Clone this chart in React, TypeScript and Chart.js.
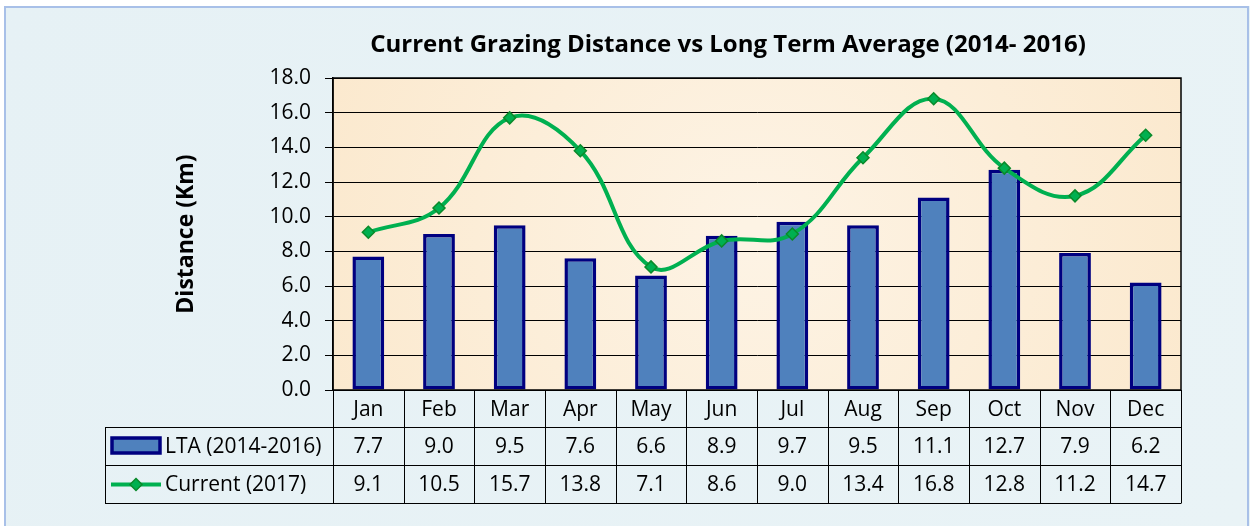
import React, { useEffect, useRef } from "react";
import { Chart, registerables } from "chart.js";

Chart.register(...registerables);

const categories = ["Jan", "Feb", "Mar", "Apr", "May", "Jun", "Jul", "Aug", "Sep", "Oct", "Nov", "Dec"];
const ltaValues = [7.7, 9.0, 9.5, 7.6, 6.6, 8.9, 9.7, 9.5, 11.1, 12.7, 7.9, 6.2];
const currentValues = [9.1, 10.5, 15.7, 13.8, 7.1, 8.6, 9.0, 13.4, 16.8, 12.8, 11.2, 14.7];
const ltaLabel = "LTA (2014-2016)";
const currentLabel = "Current (2017)";
const chartTitle = "Current Grazing Distance vs Long Term Average (2014- 2016)";
const yTitle = "Distance (Km)";

const FONT = "'Open Sans', 'Noto Sans', sans-serif";
const BAR_FILL = "#4f81bd";
const BAR_BORDER = "#000080";
const LINE_COLOR = "#00b050";
const POINT_BORDER = "#0a8a2a";

const decorPlugin = {
  id: "decor",
  beforeDraw(chart: any) {
    const { ctx, width, height, chartArea } = chart;
    ctx.save();
    const bg = ctx.createLinearGradient(0, 0, width, height);
    bg.addColorStop(0, "#e6f1f5");
    bg.addColorStop(1, "#e9f3f6");
    ctx.fillStyle = bg;
    ctx.fillRect(0, 0, width, height);
    ctx.fillStyle = "#ffffff";
    ctx.fillRect(0, 0, width, 6);
    ctx.fillRect(0, 0, 4, height);
    ctx.strokeStyle = "#a8c0e8";
    ctx.lineWidth = 2;
    ctx.strokeRect(5, 7, 1243, height + 10);
    const { left, top, right, bottom } = chartArea;
    const g = ctx.createRadialGradient((left + right) / 2, (top + bottom) / 2, 20, (left + right) / 2, (top + bottom) / 2, 500);
    g.addColorStop(0, "#fdf3e4");
    g.addColorStop(1, "#fbe8cc");
    ctx.fillStyle = g;
    ctx.fillRect(left, top, right - left, bottom - top);
    ctx.restore();
  },
  afterDraw(chart: any) {
    const { ctx, chartArea } = chart;
    const { left, top, right, bottom } = chartArea;
    const xs = chart.scales.x;
    ctx.save();
    // plot frame
    ctx.strokeStyle = "#000";
    ctx.lineWidth = 1.5;
    ctx.strokeRect(left, top, right - left, bottom - top);

    // title
    ctx.fillStyle = "#000";
    ctx.font = `bold 24px ${FONT}`;
    ctx.textAlign = "center";
    ctx.textBaseline = "middle";
    ctx.fillText(chartTitle, 728, 45);

    // data table
    const tableLeft = 105;
    const r0 = bottom;
    const r1 = 427.5;
    const r2 = 465.5;
    const r3 = 503.5;
    const n = categories.length;
    const cw = (right - left) / n;
    ctx.strokeStyle = "#000";
    ctx.lineWidth = 1;
    ctx.beginPath();
    for (const y of [r1, r2, r3]) {
      ctx.moveTo(tableLeft, y);
      ctx.lineTo(right, y);
    }
    for (let i = 0; i <= n; i++) {
      const x = Math.round(left + i * cw) + 0.5;
      ctx.moveTo(x, r0);
      ctx.lineTo(x, r3);
    }
    ctx.moveTo(tableLeft + 0.5, r1);
    ctx.lineTo(tableLeft + 0.5, r3);
    ctx.stroke();

    ctx.font = `21px ${FONT}`;
    ctx.fillStyle = "#000";
    ctx.textAlign = "center";
    ctx.textBaseline = "middle";
    categories.forEach((c, i) => {
      const cx = xs.getPixelForValue(i);
      ctx.fillText(c, cx, (r0 + r1) / 2 + 1);
      ctx.fillText(ltaValues[i].toFixed(1), cx, (r1 + r2) / 2 + 1);
      ctx.fillText(currentValues[i].toFixed(1), cx, (r2 + r3) / 2 + 1);
    });

    // legend keys
    ctx.textAlign = "left";
    ctx.fillStyle = BAR_FILL;
    ctx.fillRect(112, 438, 48, 15);
    ctx.strokeStyle = BAR_BORDER;
    ctx.lineWidth = 3.5;
    ctx.strokeRect(112, 438, 48, 15);
    ctx.fillStyle = "#000";
    ctx.fillText(ltaLabel, 165, (r1 + r2) / 2 + 1);

    const ly = (r2 + r3) / 2;
    ctx.strokeStyle = LINE_COLOR;
    ctx.lineWidth = 4;
    ctx.beginPath();
    ctx.moveTo(111, ly);
    ctx.lineTo(161, ly);
    ctx.stroke();
    ctx.beginPath();
    ctx.moveTo(136, ly - 6);
    ctx.lineTo(142, ly);
    ctx.lineTo(136, ly + 6);
    ctx.lineTo(130, ly);
    ctx.closePath();
    ctx.fillStyle = LINE_COLOR;
    ctx.fill();
    ctx.strokeStyle = POINT_BORDER;
    ctx.lineWidth = 1.5;
    ctx.stroke();
    ctx.fillStyle = "#000";
    ctx.fillText(currentLabel, 165, ly + 1);
    ctx.restore();
  },
};

export default function App() {
  const ref = useRef<HTMLCanvasElement>(null);
  useEffect(() => {
    document.body.style.margin = "0";
    if (!ref.current) return;
    const chart = new Chart(ref.current, {
      type: "bar",
      data: {
        labels: categories,
        datasets: [
          {
            type: "line",
            label: currentLabel,
            data: currentValues,
            borderColor: LINE_COLOR,
            borderWidth: 4,
            tension: 0.4,
            pointStyle: "rectRot",
            pointRadius: 6,
            pointBackgroundColor: LINE_COLOR,
            pointBorderColor: POINT_BORDER,
            pointBorderWidth: 1.5,
            fill: false,
            order: 0,
          } as any,
          {
            type: "bar",
            label: ltaLabel,
            data: ltaValues,
            backgroundColor: BAR_FILL,
            borderColor: BAR_BORDER,
            borderWidth: 3.5,
            borderSkipped: false,
            categoryPercentage: 1,
            barPercentage: 0.45,
            order: 1,
          } as any,
        ],
      },
      options: {
        responsive: false,
        animation: false,
        layout: { padding: { left: 173, top: 78, right: 69, bottom: 136 } },
        plugins: {
          legend: { display: false },
          title: { display: false },
          tooltip: { enabled: false },
        },
        scales: {
          x: { display: false, offset: true },
          y: {
            min: 0,
            max: 18,
            ticks: {
              stepSize: 2,
              padding: 14,
              color: "#000",
              font: { family: FONT, size: 21 },
              callback: (v: any) => Number(v).toFixed(1),
            },
            grid: { color: "#000", lineWidth: 1, tickLength: 8, drawTicks: true },
            border: { display: true, color: "#000", width: 1.5 },
            title: {
              display: true,
              text: yTitle,
              color: "#000",
              font: { family: FONT, size: 23, weight: "bold" },
              padding: { top: 0, bottom: 0 },
            },
            afterFit: (s: any) => {
              s.width = 160;
            },
          },
        },
      },
      plugins: [decorPlugin],
    });
    return () => chart.destroy();
  }, []);
  return (
    <div style={{ width: 1250, height: 526 }}>
      <canvas ref={ref} width={1250} height={526} style={{ display: "block" }} />
    </div>
  );
}
